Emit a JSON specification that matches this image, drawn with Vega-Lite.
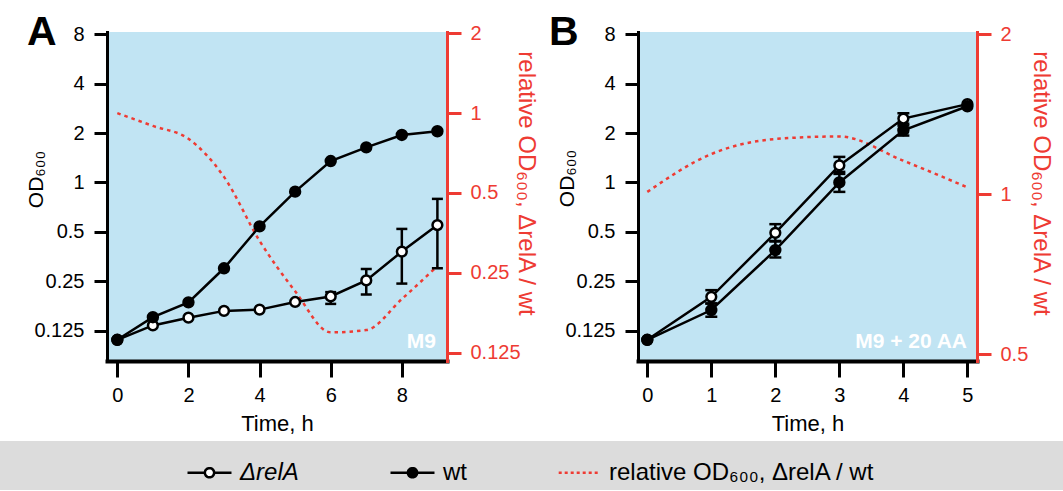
{
  "$schema": "https://vega.github.io/schema/vega-lite/v6.json",
  "background": "white",
  "padding": {"left": 0, "top": 12, "right": 0, "bottom": 0},
  "config": {
    "font": "Liberation Sans",
    "view": {"stroke": null},
    "axis": {"grid": false, "labelFont": "Liberation Sans", "titleFont": "Liberation Sans", "labelFontSize": 20, "titleFontWeight": "normal", "labelColor": "black", "titleColor": "black", "domainColor": "black", "tickColor": "black", "domainWidth": 3, "tickWidth": 3, "tickSize": 13, "labelPadding": 10, "labelOverlap": false, "labelFlush": false, "labelBound": false, "domainCap": "square"},
    "axisBottom": {"domainWidth": 4, "tickSize": 16, "labelPadding": 8, "titleFontSize": 22},
    "axisLeft": {"titleFontSize": 21},
    "axisRight": {"titleFontSize": 24}
  },
  "datasets": {
    "a": [
      {"t": 0, "wt": 0.11, "relA": 0.11, "ratio": 1.0},
      {"t": 1, "wt": 0.151, "relA": 0.1346, "ratio": 0.895},
      {"t": 2, "wt": 0.186, "relA": 0.15, "ratio": 0.8},
      {"t": 3, "wt": 0.3, "relA": 0.165, "ratio": 0.575},
      {"t": 4, "wt": 0.54, "relA": 0.168, "ratio": 0.33},
      {"t": 5, "wt": 0.879, "relA": 0.187, "ratio": 0.213},
      {"t": 6, "wt": 1.35, "relA": 0.202, "ratio": 0.149},
      {"t": 7, "wt": 1.636, "relA": 0.253, "ratio": 0.152},
      {"t": 8, "wt": 1.946, "relA": 0.379, "ratio": 0.199},
      {"t": 9, "wt": 2.05, "relA": 0.55, "ratio": 0.265}
    ],
    "a_err": [
      {"t": 6, "strain": "ΔrelA", "lo": 0.182, "hi": 0.2147},
      {"t": 7, "strain": "ΔrelA", "lo": 0.2075, "hi": 0.297},
      {"t": 8, "strain": "ΔrelA", "lo": 0.242, "hi": 0.521},
      {"t": 9, "strain": "ΔrelA", "lo": 0.3, "hi": 0.794}
    ],
    "b": [
      {"t": 0, "wt": 0.11, "relA": 0.11, "ratio": 1.01},
      {"t": 1, "wt": 0.167, "relA": 0.201, "ratio": 1.19},
      {"t": 2, "wt": 0.387, "relA": 0.493, "ratio": 1.27},
      {"t": 3, "wt": 1.0, "relA": 1.27, "ratio": 1.284},
      {"t": 4, "wt": 2.08, "relA": 2.45, "ratio": 1.156},
      {"t": 5, "wt": 2.91, "relA": 3.0, "ratio": 1.03}
    ],
    "b_err": [
      {"t": 1, "strain": "wt", "lo": 0.152, "hi": 0.183},
      {"t": 2, "strain": "wt", "lo": 0.349, "hi": 0.44},
      {"t": 3, "strain": "wt", "lo": 0.876, "hi": 1.16},
      {"t": 4, "strain": "wt", "lo": 1.93, "hi": 2.22},
      {"t": 1, "strain": "ΔrelA", "lo": 0.183, "hi": 0.2207},
      {"t": 2, "strain": "ΔrelA", "lo": 0.437, "hi": 0.557},
      {"t": 3, "strain": "ΔrelA", "lo": 1.127, "hi": 1.431},
      {"t": 4, "strain": "ΔrelA", "lo": 2.28, "hi": 2.64}
    ]
  },
  "concat": [
    {
      "hconcat": [
        {
          "width": 1,
          "height": 1,
          "data": {"values": []},
          "mark": {"type": "point", "opacity": 0}
        },
        {
          "hconcat": [
            {
              "width": 340,
              "height": 329,
              "view": {"fill": "#c1e4f3", "stroke": null},
              "layer": [
                {
                  "data": {"name": "a"},
                  "mark": {"type": "line", "color": "#ee3b33", "strokeDash": [3.5, 4], "strokeWidth": 2.5, "interpolate": "monotone"},
                  "encoding": {
                    "x": {"field": "t", "type": "quantitative", "scale": {"domain": [-0.29, 9.27], "nice": false, "zero": false}, "axis": {"values": [0, 2, 4, 6, 8], "format": "~g", "title": "Time, h", "titleFontSize": 22, "titlePadding": 8}},
                    "y": {"field": "ratio", "type": "quantitative", "scale": {"type": "log", "base": 2, "domain": [0.1162, 2.023], "nice": false}, "axis": {"orient": "right", "values": [0.125, 0.25, 0.5, 1, 2], "format": "~g", "title": "relative OD₆₀₀, ΔrelA / wt", "titleX": 71, "titleY": 151, "titleAngle": 90, "titleBaseline": "alphabetic", "titleAlign": "center", "titleFontSize": 24, "domainColor": "#ee3b33", "tickColor": "#ee3b33", "labelColor": "#ee3b33", "titleColor": "#ee3b33", "tickSize": 14, "labelPadding": 9}}
                  }
                },
                {
                  "layer": [
                    {
                      "data": {"name": "a"},
                      "mark": {"type": "line", "color": "black", "strokeWidth": 2.5},
                      "encoding": {
                        "x": {"field": "t", "type": "quantitative", "scale": {"domain": [-0.29, 9.27], "nice": false, "zero": false}},
                        "y": {"field": "relA", "type": "quantitative", "scale": {"type": "log", "base": 2, "domain": [0.0817, 8.25], "nice": false}, "axis": {"orient": "left", "values": [0.125, 0.25, 0.5, 1, 2, 4, 8], "format": "~g", "title": "OD₆₀₀", "titleX": -65, "titleY": 147, "titleAngle": -90, "titleBaseline": "alphabetic", "titleAlign": "center", "titleFontSize": 21}}
                      }
                    },
                    {
                      "data": {"name": "a"},
                      "mark": {"type": "line", "color": "black", "strokeWidth": 2.5},
                      "encoding": {
                        "x": {"field": "t", "type": "quantitative", "scale": {"domain": [-0.29, 9.27], "nice": false, "zero": false}},
                        "y": {"field": "wt", "type": "quantitative", "scale": {"type": "log", "base": 2, "domain": [0.0817, 8.25], "nice": false}}
                      }
                    },
                    {
                      "data": {"name": "a_err"},
                      "mark": {"type": "rule", "color": "black", "strokeWidth": 2.5, "opacity": 1},
                      "encoding": {
                        "x": {"field": "t", "type": "quantitative", "scale": {"domain": [-0.29, 9.27], "nice": false, "zero": false}},
                        "y": {"field": "lo", "type": "quantitative", "scale": {"type": "log", "base": 2, "domain": [0.0817, 8.25], "nice": false}},
                        "y2": {"field": "hi"}
                      }
                    },
                    {
                      "data": {"name": "a_err"},
                      "mark": {"type": "tick", "orient": "horizontal", "color": "black", "size": 11, "thickness": 2.5, "opacity": 1},
                      "encoding": {
                        "x": {"field": "t", "type": "quantitative", "scale": {"domain": [-0.29, 9.27], "nice": false, "zero": false}},
                        "y": {"field": "lo", "type": "quantitative", "scale": {"type": "log", "base": 2, "domain": [0.0817, 8.25], "nice": false}}
                      }
                    },
                    {
                      "data": {"name": "a_err"},
                      "mark": {"type": "tick", "orient": "horizontal", "color": "black", "size": 11, "thickness": 2.5, "opacity": 1},
                      "encoding": {
                        "x": {"field": "t", "type": "quantitative", "scale": {"domain": [-0.29, 9.27], "nice": false, "zero": false}},
                        "y": {"field": "hi", "type": "quantitative", "scale": {"type": "log", "base": 2, "domain": [0.0817, 8.25], "nice": false}}
                      }
                    },
                    {
                      "data": {"name": "a"},
                      "mark": {"type": "point", "filled": true, "fill": "white", "stroke": "black", "strokeWidth": 2.5, "size": 95, "opacity": 1},
                      "encoding": {
                        "x": {"field": "t", "type": "quantitative", "scale": {"domain": [-0.29, 9.27], "nice": false, "zero": false}},
                        "y": {"field": "relA", "type": "quantitative", "scale": {"type": "log", "base": 2, "domain": [0.0817, 8.25], "nice": false}}
                      }
                    },
                    {
                      "data": {"name": "a"},
                      "mark": {"type": "point", "filled": true, "color": "black", "size": 154, "opacity": 1},
                      "encoding": {
                        "x": {"field": "t", "type": "quantitative", "scale": {"domain": [-0.29, 9.27], "nice": false, "zero": false}},
                        "y": {"field": "wt", "type": "quantitative", "scale": {"type": "log", "base": 2, "domain": [0.0817, 8.25], "nice": false}}
                      }
                    },
                    {
                      "data": {"values": [{"medium": "M9"}]},
                      "mark": {"type": "text", "color": "white", "fontSize": 21, "fontWeight": "bold", "align": "right", "baseline": "alphabetic", "dx": -11, "dy": -13},
                      "encoding": {
                        "x": {"value": "width"},
                        "y": {"value": "height"},
                        "text": {"field": "medium"}
                      }
                    },
                    {
                      "data": {"values": [{"panel": "A"}]},
                      "mark": {"type": "text", "color": "black", "fontSize": 41, "fontWeight": "bold", "align": "left", "baseline": "alphabetic", "dx": -80, "dy": 13},
                      "encoding": {
                        "x": {"value": 0},
                        "y": {"value": 0},
                        "text": {"field": "panel"}
                      }
                    }
                  ]
                }
              ],
              "resolve": {"scale": {"y": "independent"}}
            },
            {
              "width": 339,
              "height": 329,
              "view": {"fill": "#c1e4f3", "stroke": null},
              "layer": [
                {
                  "data": {"name": "b"},
                  "mark": {"type": "line", "color": "#ee3b33", "strokeDash": [3.5, 4], "strokeWidth": 2.5, "interpolate": "monotone"},
                  "encoding": {
                    "x": {"field": "t", "type": "quantitative", "scale": {"domain": [-0.145, 5.15], "nice": false, "zero": false}, "axis": {"values": [0, 1, 2, 3, 4, 5], "format": "~g", "title": "Time, h", "titleFontSize": 22, "titlePadding": 8}},
                    "y": {"field": "ratio", "type": "quantitative", "scale": {"type": "log", "base": 2, "domain": [0.4855, 2.019], "nice": false}, "axis": {"orient": "right", "values": [0.5, 1, 2], "format": "~g", "title": "relative OD₆₀₀, ΔrelA / wt", "titleX": 56, "titleY": 151, "titleAngle": 90, "titleBaseline": "alphabetic", "titleAlign": "center", "titleFontSize": 24, "domainColor": "#ee3b33", "tickColor": "#ee3b33", "labelColor": "#ee3b33", "titleColor": "#ee3b33", "tickSize": 14, "labelPadding": 9}}
                  }
                },
                {
                  "layer": [
                    {
                      "data": {"name": "b"},
                      "mark": {"type": "line", "color": "black", "strokeWidth": 2.5},
                      "encoding": {
                        "x": {"field": "t", "type": "quantitative", "scale": {"domain": [-0.145, 5.15], "nice": false, "zero": false}},
                        "y": {"field": "relA", "type": "quantitative", "scale": {"type": "log", "base": 2, "domain": [0.0817, 8.25], "nice": false}, "axis": {"orient": "left", "values": [0.125, 0.25, 0.5, 1, 2, 4, 8], "format": "~g", "title": "OD₆₀₀", "titleX": -65, "titleY": 146, "titleAngle": -90, "titleBaseline": "alphabetic", "titleAlign": "center", "titleFontSize": 21}}
                      }
                    },
                    {
                      "data": {"name": "b"},
                      "mark": {"type": "line", "color": "black", "strokeWidth": 2.5},
                      "encoding": {
                        "x": {"field": "t", "type": "quantitative", "scale": {"domain": [-0.145, 5.15], "nice": false, "zero": false}},
                        "y": {"field": "wt", "type": "quantitative", "scale": {"type": "log", "base": 2, "domain": [0.0817, 8.25], "nice": false}}
                      }
                    },
                    {
                      "data": {"name": "b_err"},
                      "mark": {"type": "rule", "color": "black", "strokeWidth": 2.5, "opacity": 1},
                      "encoding": {
                        "x": {"field": "t", "type": "quantitative", "scale": {"domain": [-0.145, 5.15], "nice": false, "zero": false}},
                        "y": {"field": "lo", "type": "quantitative", "scale": {"type": "log", "base": 2, "domain": [0.0817, 8.25], "nice": false}},
                        "y2": {"field": "hi"}
                      }
                    },
                    {
                      "data": {"name": "b_err"},
                      "mark": {"type": "tick", "orient": "horizontal", "color": "black", "size": 12, "thickness": 2.5, "opacity": 1},
                      "encoding": {
                        "x": {"field": "t", "type": "quantitative", "scale": {"domain": [-0.145, 5.15], "nice": false, "zero": false}},
                        "y": {"field": "lo", "type": "quantitative", "scale": {"type": "log", "base": 2, "domain": [0.0817, 8.25], "nice": false}}
                      }
                    },
                    {
                      "data": {"name": "b_err"},
                      "mark": {"type": "tick", "orient": "horizontal", "color": "black", "size": 12, "thickness": 2.5, "opacity": 1},
                      "encoding": {
                        "x": {"field": "t", "type": "quantitative", "scale": {"domain": [-0.145, 5.15], "nice": false, "zero": false}},
                        "y": {"field": "hi", "type": "quantitative", "scale": {"type": "log", "base": 2, "domain": [0.0817, 8.25], "nice": false}}
                      }
                    },
                    {
                      "data": {"name": "b"},
                      "mark": {"type": "point", "filled": true, "fill": "white", "stroke": "black", "strokeWidth": 2.5, "size": 95, "opacity": 1},
                      "encoding": {
                        "x": {"field": "t", "type": "quantitative", "scale": {"domain": [-0.145, 5.15], "nice": false, "zero": false}},
                        "y": {"field": "relA", "type": "quantitative", "scale": {"type": "log", "base": 2, "domain": [0.0817, 8.25], "nice": false}}
                      }
                    },
                    {
                      "data": {"name": "b"},
                      "mark": {"type": "point", "filled": true, "color": "black", "size": 154, "opacity": 1},
                      "encoding": {
                        "x": {"field": "t", "type": "quantitative", "scale": {"domain": [-0.145, 5.15], "nice": false, "zero": false}},
                        "y": {"field": "wt", "type": "quantitative", "scale": {"type": "log", "base": 2, "domain": [0.0817, 8.25], "nice": false}}
                      }
                    },
                    {
                      "data": {"values": [{"medium": "M9 + 20 AA"}]},
                      "mark": {"type": "text", "color": "white", "fontSize": 21, "fontWeight": "bold", "align": "right", "baseline": "alphabetic", "dx": -10, "dy": -13},
                      "encoding": {
                        "x": {"value": "width"},
                        "y": {"value": "height"},
                        "text": {"field": "medium"}
                      }
                    },
                    {
                      "data": {"values": [{"panel": "B"}]},
                      "mark": {"type": "text", "color": "black", "fontSize": 41, "fontWeight": "bold", "align": "left", "baseline": "alphabetic", "dx": -89, "dy": 13},
                      "encoding": {
                        "x": {"value": 0},
                        "y": {"value": 0},
                        "text": {"field": "panel"}
                      }
                    }
                  ]
                }
              ],
              "resolve": {"scale": {"y": "independent"}}
            }
          ],
          "spacing": 12
        }
      ],
      "spacing": 24
    },
    {
      "width": 1063,
      "height": 49,
      "view": {"fill": "#dcdcdc", "stroke": null},
      "data": {"values": [{"series": "ΔrelA"}, {"series": "wt"}, {"series": "relative OD₆₀₀, ΔrelA / wt"}]},
      "mark": {"type": "point", "opacity": 0, "strokeWidth": 2.5},
      "encoding": {
        "shape": {"field": "series", "type": "nominal", "scale": {"domain": ["ΔrelA", "wt", "relative OD₆₀₀, ΔrelA / wt"], "range": ["M-1,0H-0.21M0.21,0H1M-0.21,0A0.21,0.21,0,1,0,0.21,0A0.21,0.21,0,1,0,-0.21,0Z", "M-1,0H-0.21M0.21,0H1M-0.21,0A0.21,0.21,0,1,0,0.21,0A0.21,0.21,0,1,0,-0.21,0Z", "M-0.9,0H0.9"]}, "legend": {"orient": "none", "legendX": 186, "legendY": 8, "direction": "horizontal", "title": null, "padding": 0, "columnPadding": 86, "labelOffset": 7, "symbolSize": 1936, "symbolStrokeWidth": 2.5, "symbolOpacity": 1, "labelFontSize": 24, "labelFont": "Liberation Sans", "labelColor": "black", "labelLimit": 500, "encode": {"labels": {"update": {"fontStyle": [{"test": "datum.value === 'ΔrelA'", "value": "italic"}, {"value": "normal"}]}}, "symbols": {"update": {"opacity": {"value": 1}}}}}},
        "stroke": {"field": "series", "type": "nominal", "scale": {"domain": ["ΔrelA", "wt", "relative OD₆₀₀, ΔrelA / wt"], "range": ["black", "black", "#ee3b33"]}, "legend": {"orient": "none", "legendX": 186, "legendY": 8, "direction": "horizontal", "title": null, "padding": 0, "columnPadding": 86, "labelOffset": 7, "symbolSize": 1936, "symbolStrokeWidth": 2.5, "symbolOpacity": 1, "labelFontSize": 24, "labelFont": "Liberation Sans", "labelColor": "black", "labelLimit": 500, "encode": {"labels": {"update": {"fontStyle": [{"test": "datum.value === 'ΔrelA'", "value": "italic"}, {"value": "normal"}]}}, "symbols": {"update": {"opacity": {"value": 1}}}}}},
        "fill": {"field": "series", "type": "nominal", "scale": {"domain": ["ΔrelA", "wt", "relative OD₆₀₀, ΔrelA / wt"], "range": ["white", "black", "transparent"]}, "legend": {"orient": "none", "legendX": 186, "legendY": 8, "direction": "horizontal", "title": null, "padding": 0, "columnPadding": 86, "labelOffset": 7, "symbolSize": 1936, "symbolStrokeWidth": 2.5, "symbolOpacity": 1, "labelFontSize": 24, "labelFont": "Liberation Sans", "labelColor": "black", "labelLimit": 500, "encode": {"labels": {"update": {"fontStyle": [{"test": "datum.value === 'ΔrelA'", "value": "italic"}, {"value": "normal"}]}}, "symbols": {"update": {"opacity": {"value": 1}}}}}},
        "strokeDash": {"field": "series", "type": "nominal", "scale": {"domain": ["ΔrelA", "wt", "relative OD₆₀₀, ΔrelA / wt"], "range": [[1, 0], [1, 0], [3, 3]]}, "legend": {"orient": "none", "legendX": 186, "legendY": 8, "direction": "horizontal", "title": null, "padding": 0, "columnPadding": 86, "labelOffset": 7, "symbolSize": 1936, "symbolStrokeWidth": 2.5, "symbolOpacity": 1, "labelFontSize": 24, "labelFont": "Liberation Sans", "labelColor": "black", "labelLimit": 500, "encode": {"labels": {"update": {"fontStyle": [{"test": "datum.value === 'ΔrelA'", "value": "italic"}, {"value": "normal"}]}}, "symbols": {"update": {"opacity": {"value": 1}}}}}}
      }
    }
  ],
  "columns": 1,
  "align": "none",
  "spacing": 7,
  "resolve": {"legend": {"shape": "independent", "stroke": "independent", "fill": "independent", "strokeDash": "independent"}}
}
